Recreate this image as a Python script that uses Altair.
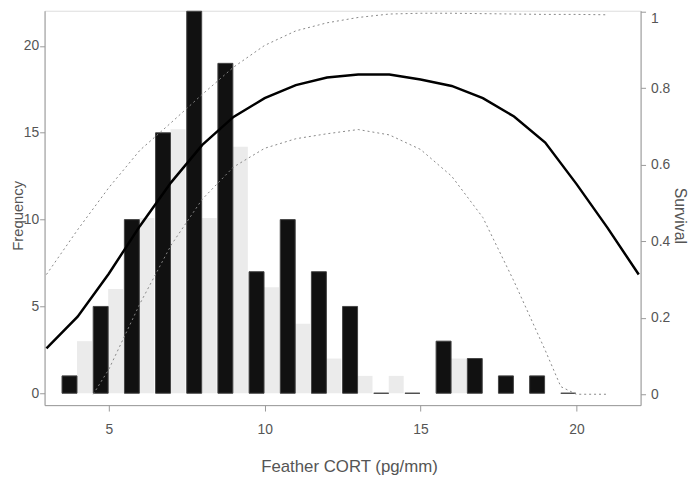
import altair as alt
import pandas as pd

# ---- data ----
bin_start = [3.5, 4.5, 5.5, 6.5, 7.5, 8.5, 9.5, 10.5, 11.5, 12.5, 13.5, 14.5, 15.5, 16.5, 17.5, 18.5, 19.5]
freq_black = [1, 5, 10, 15, 22, 19, 7, 10, 7, 5, 0, 0, 3, 2, 1, 1, 0]
freq_gray = [3, 6, 10.1, 15.2, 10.1, 14.2, 6.1, 4, 2, 1, 1, 0, 2, 0, 0, 0, 0]

est_x = [3, 4, 5, 6, 7, 8, 9, 10, 11, 12, 13, 14, 15, 16, 17, 18, 19, 20, 21, 22]
est_s = [0.12, 0.203, 0.315, 0.44, 0.554, 0.652, 0.725, 0.774, 0.808, 0.828, 0.836, 0.836,
         0.823, 0.806, 0.774, 0.726, 0.658, 0.55, 0.435, 0.313]

upper_x = [3, 4, 5, 6, 7, 8, 9, 10, 11, 12, 13, 14, 15, 16, 17, 18, 19, 20, 21]
upper_s = [0.313, 0.43, 0.54, 0.638, 0.71, 0.784, 0.855, 0.912, 0.95, 0.971, 0.985, 0.994,
           0.996, 0.996, 0.995, 0.994, 0.993, 0.993, 0.992]

lower_x = [4.5, 5, 6, 7, 8, 9, 10, 11, 12, 13, 14, 15, 16, 17, 18, 19, 19.5, 20, 21]
lower_s = [0.0, 0.065, 0.237, 0.39, 0.51, 0.594, 0.643, 0.668, 0.681, 0.692, 0.678, 0.64,
           0.57, 0.462, 0.295, 0.115, 0.02, 0.0, 0.0]

x_ticks = [5, 10, 15, 20]
freq_ticks = [0, 5, 10, 15, 20]
surv_ticks = [0, 0.2, 0.4, 0.6, 0.8, 1]

# ---- tables ----
bars = pd.DataFrame({"start": bin_start, "black": freq_black, "gray": freq_gray})
est = pd.DataFrame({"x": est_x, "s": est_s})
upper = pd.DataFrame({"x": upper_x, "s": upper_s})
lower = pd.DataFrame({"x": lower_x, "s": lower_s})

TXT = "#555555"
AX = "#999999"
FONT = "Liberation Sans"

x_scale = alt.Scale(domain=[2.94, 22.06], nice=False, zero=False)
x_axis = alt.Axis(values=x_ticks, title="Feather CORT (pg/mm)", grid=False,
                  tickSize=6, labelPadding=12, labelFontSize=14, titleFontSize=17,
                  titleFontWeight="normal", titleX=308, titleY=67, titleBaseline="alphabetic",
                  labelColor=TXT, titleColor=TXT, domainColor=AX, tickColor=AX)

y_left_scale = alt.Scale(domain=[-0.683, 22.03], nice=False, zero=False)
y_left = alt.Y("v:Q", scale=y_left_scale,
               axis=alt.Axis(values=freq_ticks, title="Frequency", orient="left", grid=False,
                             tickSize=5, labelPadding=1, labelFontSize=14, titleFontSize=15,
                             titleFontWeight="normal", titleAngle=-90, titleX=-22, titleY=207,
                             titleAlign="center", titleBaseline="alphabetic",
                             labelColor=TXT, titleColor=TXT, domainColor=AX, tickColor=AX))

y_right = alt.Y("s:Q",
                scale=alt.Scale(domain=[-0.0284, 1.0026], nice=False, zero=False),
                axis=alt.Axis(values=surv_ticks, format="~g", title="Survival", orient="right",
                              grid=False, tickSize=5, labelPadding=5, labelFontSize=14,
                              labelFlush=3,
                              titleFontSize=16, titleFontWeight="normal", titleAngle=90,
                              titleX=34, titleY=207, titleAlign="center",
                              titleBaseline="alphabetic",
                              labelColor=TXT, titleColor=TXT, domainColor=AX, tickColor=AX))

black_bars = alt.Chart(bars).transform_calculate(
    x1="datum.start", x2="datum.start + 0.48", v="datum.black", v0="0"
).mark_rect(color="#111111", stroke="#444444", strokeWidth=1).encode(
    x=alt.X("x1:Q", scale=x_scale, axis=x_axis),
    x2="x2:Q",
    y=y_left,
    y2="v0:Q",
)

gray_bars = alt.Chart(bars).transform_calculate(
    x1="datum.start + 0.48", x2="datum.start + 0.96", v="datum.gray", v0="0"
).mark_rect(color="#ebebeb").encode(
    x=alt.X("x1:Q", scale=x_scale, axis=x_axis),
    x2="x2:Q",
    y=y_left,
    y2="v0:Q",
)

line_est = alt.Chart(est).mark_line(color="black", strokeWidth=2.5, clip=True).encode(
    x=alt.X("x:Q", scale=x_scale, axis=x_axis), y=y_right)
line_up = alt.Chart(upper).mark_line(color="#888888", strokeWidth=1, strokeDash=[2, 3], clip=True).encode(
    x=alt.X("x:Q", scale=x_scale, axis=x_axis), y=y_right)
line_lo = alt.Chart(lower).mark_line(color="#888888", strokeWidth=1, strokeDash=[2, 3], clip=True).encode(
    x=alt.X("x:Q", scale=x_scale, axis=x_axis), y=y_right)

left = alt.layer(gray_bars, black_bars)
right = alt.layer(line_up, line_lo, line_est)

chart = alt.layer(left, right).resolve_scale(y="independent").properties(
    width=603, height=399,
    autosize=alt.AutoSizeParams(type="none"),
    padding={"left": 37, "top": 0, "right": 52, "bottom": 74},
).configure_view(stroke=AX, strokeWidth=1).configure(font=FONT)

chart.save("out.html", embed_options={"renderer": "svg", "actions": False})
